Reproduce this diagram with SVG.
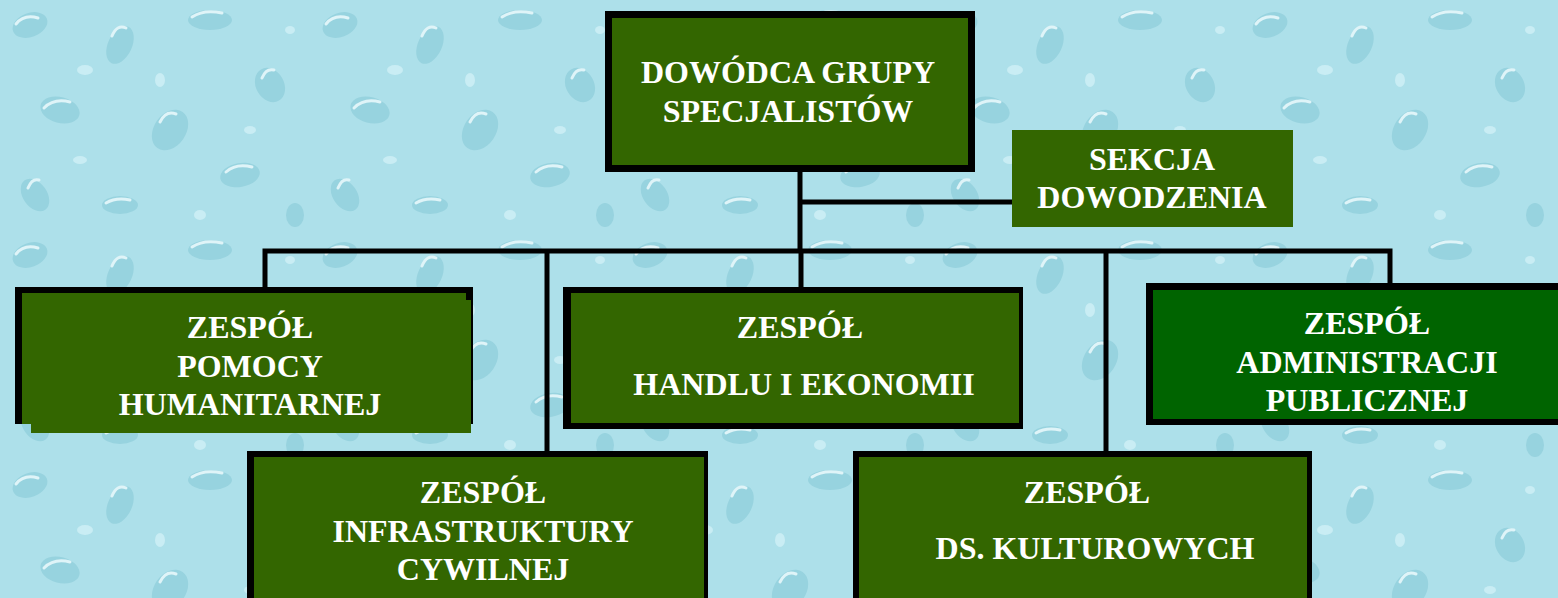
<svg xmlns="http://www.w3.org/2000/svg" width="1558" height="598" viewBox="0 0 1558 598">
<defs>
<pattern id="drops" width="310" height="230" patternUnits="userSpaceOnUse">
<rect width="310" height="230" fill="#ade0ea"/>
<g fill="#97d3df">
<ellipse cx="30" cy="25" rx="18" ry="12" transform="rotate(-20 30 25)"/>
<ellipse cx="120" cy="45" rx="12" ry="20" transform="rotate(25 120 45)"/>
<ellipse cx="210" cy="20" rx="22" ry="10"/>
<ellipse cx="270" cy="85" rx="14" ry="18" transform="rotate(-30 270 85)"/>
<ellipse cx="60" cy="110" rx="20" ry="13" transform="rotate(15 60 110)"/>
<ellipse cx="170" cy="130" rx="16" ry="22" transform="rotate(35 170 130)"/>
<ellipse cx="240" cy="175" rx="20" ry="12" transform="rotate(-10 240 175)"/>
<ellipse cx="35" cy="195" rx="12" ry="18" transform="rotate(-35 35 195)"/>
<ellipse cx="120" cy="205" rx="18" ry="9"/>
<ellipse cx="295" cy="215" rx="9" ry="12"/>
</g>
<g fill="none" stroke="#dff4f8" stroke-width="3" stroke-linecap="round">
<path d="M16 24 q8 -10 22 -6"/>
<path d="M112 36 q5 -12 14 -8"/>
<path d="M192 17 q12 -8 30 -4"/>
<path d="M262 78 q4 -10 12 -8"/>
<path d="M44 108 q10 -10 26 -6"/>
<path d="M160 122 q6 -12 16 -8"/>
<path d="M226 172 q10 -9 26 -5"/>
<path d="M28 188 q4 -10 11 -8"/>
<path d="M106 203 q10 -6 24 -3"/>
</g>
<g fill="#c9edf4">
<ellipse cx="85" cy="70" rx="8" ry="5"/>
<ellipse cx="250" cy="130" rx="6" ry="4"/>
<ellipse cx="160" cy="80" rx="5" ry="7"/>
<ellipse cx="80" cy="160" rx="7" ry="4"/>
<ellipse cx="200" cy="215" rx="6" ry="5"/>
<ellipse cx="290" cy="30" rx="5" ry="4"/>
</g>
</pattern>
<style>
.t{font-family:"Liberation Serif","Times New Roman",serif;font-weight:bold;font-size:32px;fill:#ffffff;text-anchor:middle}
.g{fill:#336600}
.k{fill:#000000}
.ln{stroke:#000000;stroke-width:5;fill:none}
</style>
</defs>
<rect width="1558" height="598" fill="url(#drops)"/>
<g id="connectors">
<line class="ln" x1="800" y1="170" x2="800" y2="253"/>
<line class="ln" x1="800" y1="202" x2="1013" y2="202"/>
<polyline class="ln" points="265,289 265,251 1390,251 1390,284"/>
<line class="ln" x1="547" y1="251" x2="547" y2="452"/>
<line class="ln" x1="801" y1="251" x2="801" y2="288"/>
<line class="ln" x1="1106" y1="251" x2="1106" y2="452"/>
</g>
<g id="node-dowodca">
<rect class="k" x="605" y="11" width="370" height="161"/>
<rect class="g" x="612" y="18" width="356" height="147"/>
<text class="t" x="788" y="83">DOWÓDCA GRUPY</text>
<text class="t" x="788" y="122">SPECJALISTÓW</text>
</g>
<g id="node-sekcja">
<rect class="g" x="1012" y="130" width="281" height="97"/>
<text class="t" x="1152" y="170">SEKCJA</text>
<text class="t" x="1152" y="208">DOWODZENIA</text>
</g>
<g id="node-pomocy">
<rect class="k" x="15" y="287" width="458" height="137"/>
<rect class="g" x="22" y="293" width="444" height="131"/>
<rect class="g" x="31" y="300" width="440" height="133"/>
<text class="t" x="250" y="338">ZESPÓŁ</text>
<text class="t" x="250" y="377">POMOCY</text>
<text class="t" x="250" y="415">HUMANITARNEJ</text>
</g>
<g id="node-handlu">
<rect class="k" x="563" y="287" width="460" height="142"/>
<rect class="g" x="571" y="293" width="448" height="130"/>
<text class="t" x="800" y="338">ZESPÓŁ</text>
<text class="t" x="804" y="395">HANDLU I EKONOMII</text>
</g>
<g id="node-administracji">
<rect class="k" x="1146" y="283" width="420" height="142"/>
<rect x="1153" y="290" width="410" height="129" fill="#006400"/>
<text class="t" x="1367" y="334">ZESPÓŁ</text>
<text class="t" x="1367" y="373">ADMINISTRACJI</text>
<text class="t" x="1367" y="411">PUBLICZNEJ</text>
</g>
<g id="node-infrastruktury">
<rect class="k" x="247" y="451" width="461" height="160"/>
<rect class="g" x="254" y="457" width="450" height="150"/>
<text class="t" x="483" y="503">ZESPÓŁ</text>
<text class="t" x="483" y="542">INFRASTRUKTURY</text>
<text class="t" x="483" y="580">CYWILNEJ</text>
</g>
<g id="node-kulturowych">
<rect class="k" x="853" y="451" width="459" height="160"/>
<rect class="g" x="859" y="457" width="448" height="150"/>
<text class="t" x="1087" y="503">ZESPÓŁ</text>
<text class="t" x="1095" y="559">DS. KULTUROWYCH</text>
</g>
</svg>
